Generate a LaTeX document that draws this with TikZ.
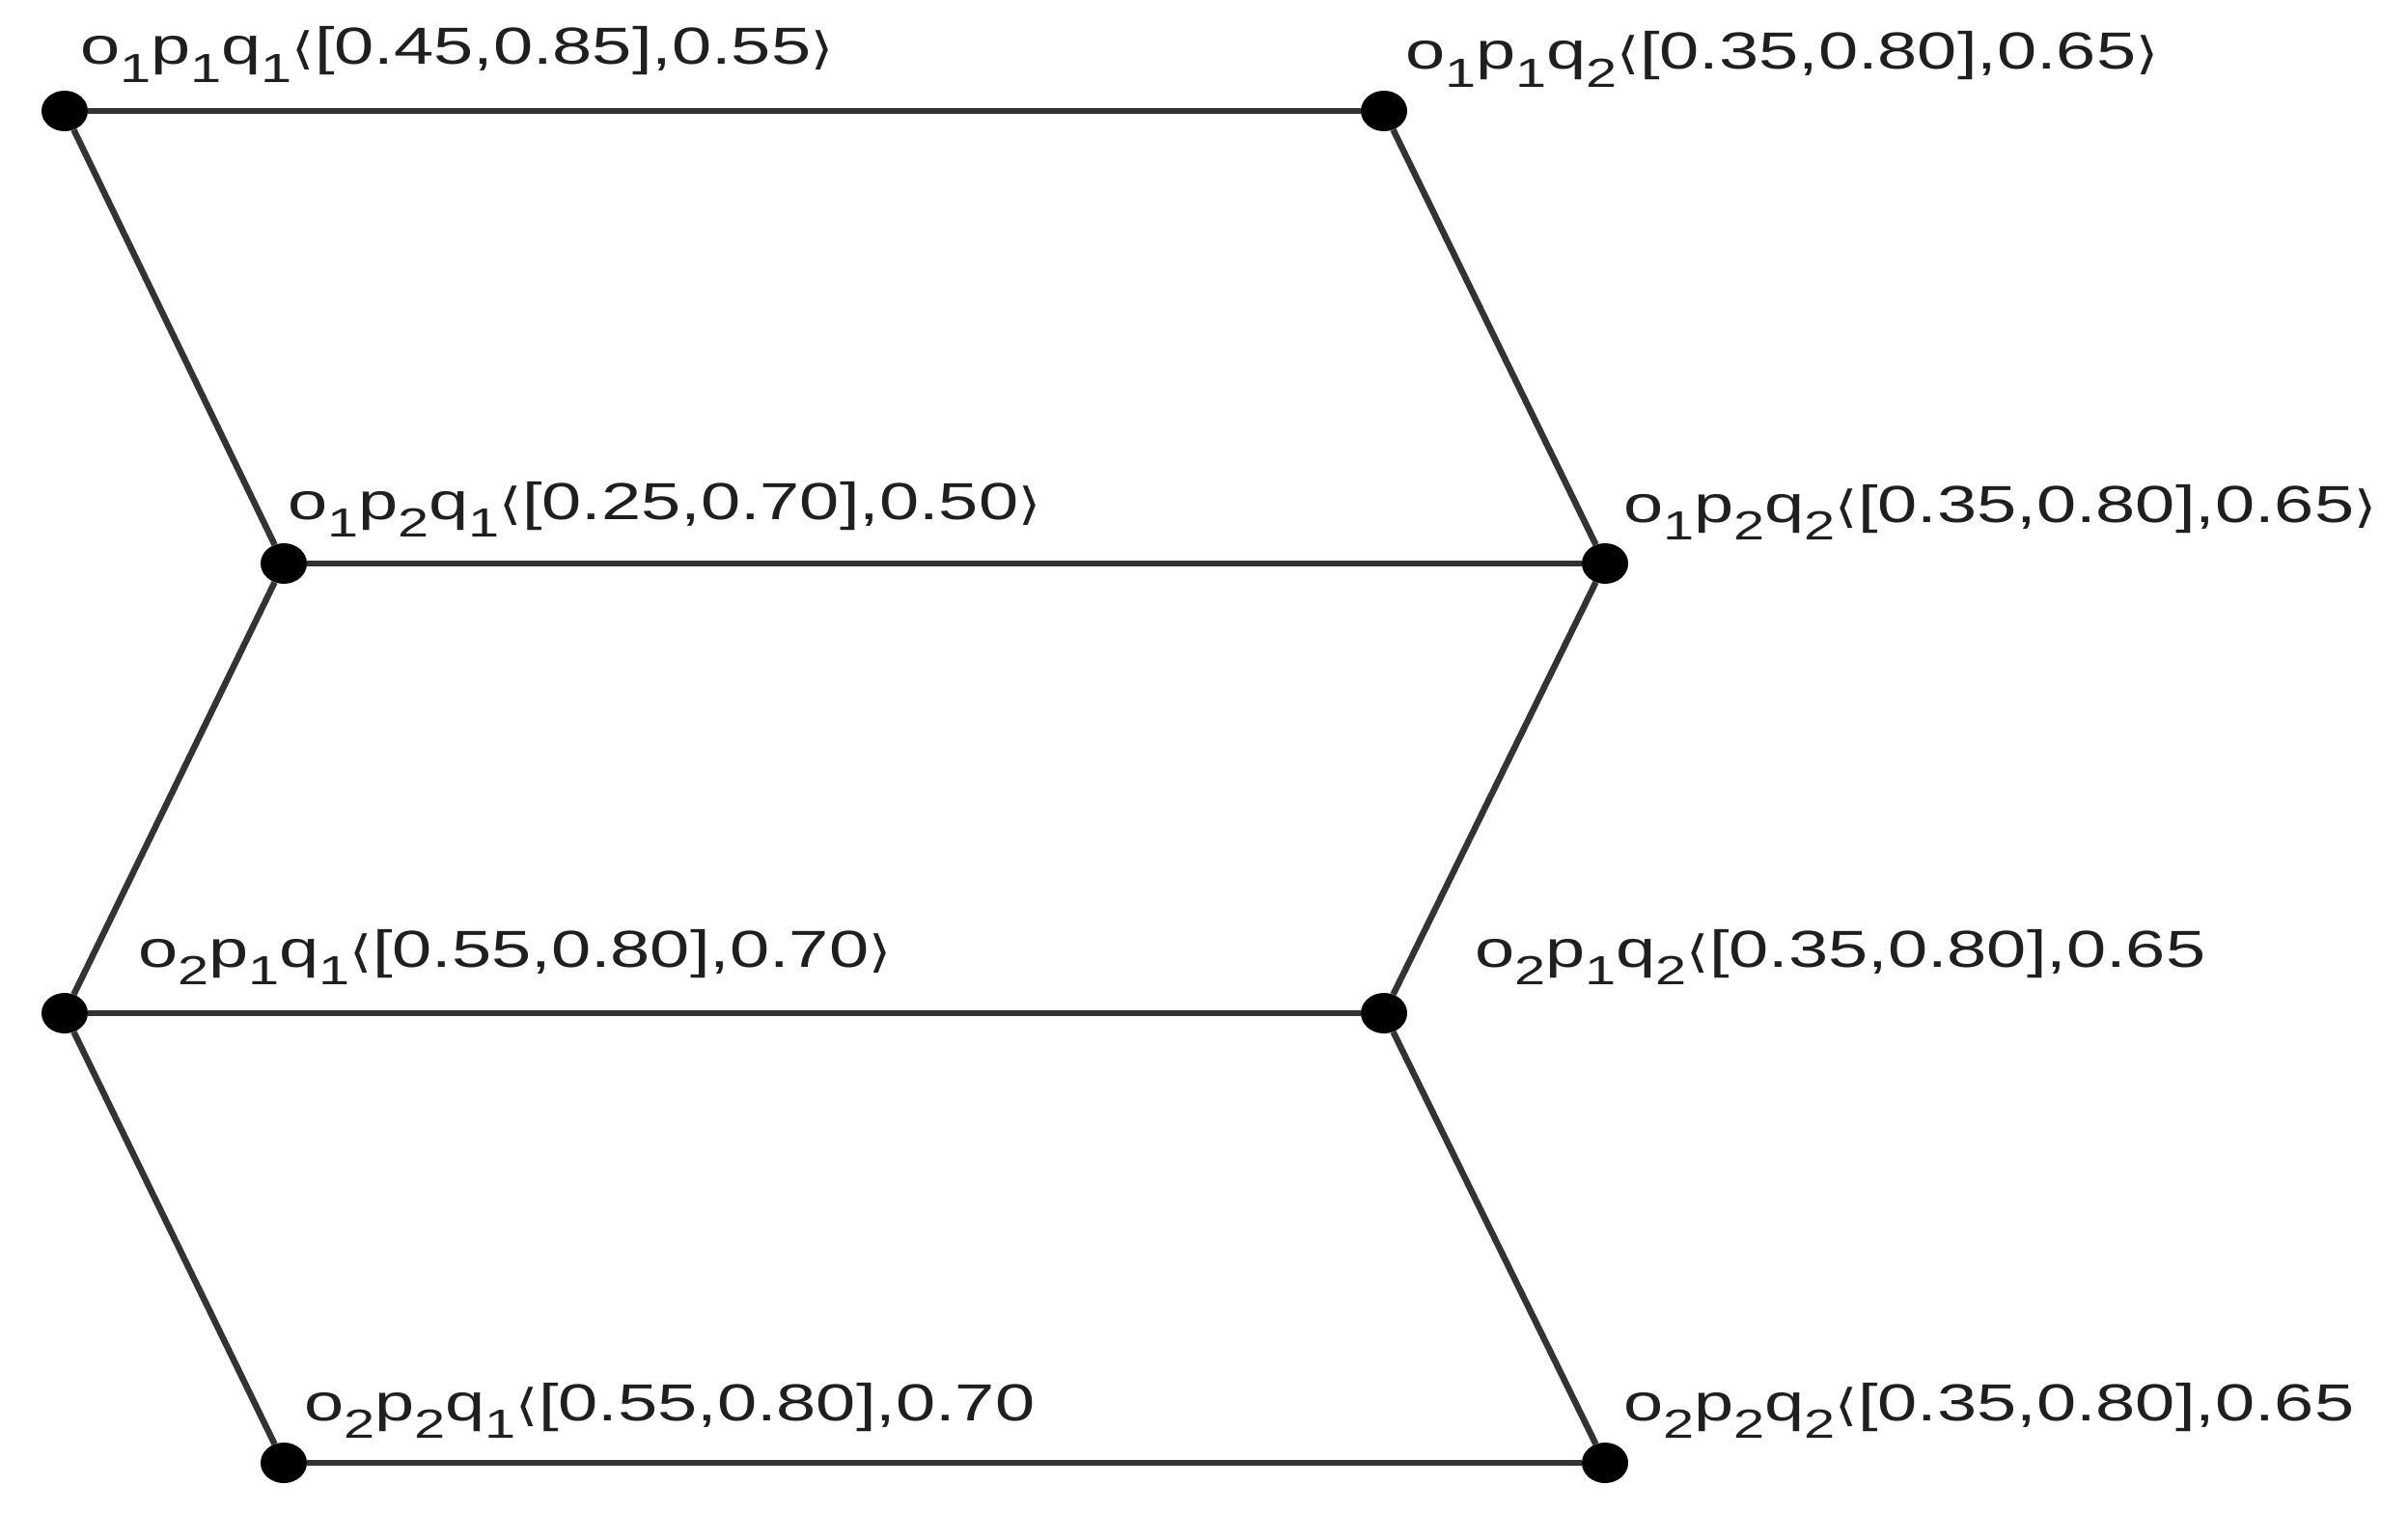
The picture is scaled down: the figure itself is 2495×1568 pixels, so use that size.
\documentclass[tikz,border=0pt]{standalone}
\usepackage{fontspec}
\setmainfont{Liberation Sans}
\newfontfamily\dvs{DejaVu Sans}
\usetikzlibrary{shapes.geometric}
\newcommand\sbs[1]{\raisebox{-0.34em}{\scalebox{0.78}{#1}}}
\newcommand\lb{{\dvs\scalebox{0.8}[0.85]{⟨}}}
\newcommand\rb{{\dvs\scalebox{0.8}[0.85]{⟩}}}
\newcommand\lab[4]{\scalebox{1.37}[1]{o\sbs{#1}p\sbs{#2}q\sbs{#3}#4}}
\begin{document}
\begin{tikzpicture}[x=1pt,y=-1pt,
  dot/.style={ellipse, fill=black, minimum width=48pt, minimum height=42pt, inner sep=0pt},
  edge/.style={draw=black!80, line width=6.5pt},
  lbl/.style={anchor=base west, inner sep=0pt, text=black!88, font=\fontsize{54}{54}\selectfont}]
\useasboundingbox[fill=white] (0,0) rectangle (2495,1568);
\node[dot] (a) at (67,115) {};
\node[dot] (b) at (1434,115) {};
\node[dot] (c) at (294,584) {};
\node[dot] (d) at (1663,584) {};
\node[dot] (e) at (67,1050) {};
\node[dot] (f) at (1434,1050) {};
\node[dot] (g) at (294,1516) {};
\node[dot] (h) at (1663,1516) {};
\draw[edge] (a) -- (b);
\draw[edge] (a) -- (c);
\draw[edge] (b) -- (d);
\draw[edge] (c) -- (d);
\draw[edge] (c) -- (e);
\draw[edge] (d) -- (f);
\draw[edge] (e) -- (f);
\draw[edge] (e) -- (g);
\draw[edge] (f) -- (h);
\draw[edge] (g) -- (h);
\node[lbl] (la) at (83,67) {\lab{1}{1}{1}{\lb[0.45,0.85],0.55\rb}};
\node[lbl] (lb) at (1456,72) {\lab{1}{1}{2}{\lb[0.35,0.80],0.65\rb}};
\node[lbl] (lc) at (298,538) {\lab{1}{2}{1}{\lb[0.25,0.70],0.50\rb}};
\node[lbl] (ld) at (1682,541) {\lab{1}{2}{2}{\lb[0.35,0.80],0.65\rb}};
\node[lbl] (le) at (143,1002) {\lab{2}{1}{1}{\lb[0.55,0.80],0.70\rb}};
\node[lbl] (lf) at (1528,1002) {\lab{2}{1}{2}{\lb[0.35,0.80],0.65}};
\node[lbl] (lg) at (315,1472) {\lab{2}{2}{1}{\lb[0.55,0.80],0.70}};
\node[lbl] (lh) at (1682,1472) {\lab{2}{2}{2}{\lb[0.35,0.80],0.65}};
\end{tikzpicture}
\end{document}
